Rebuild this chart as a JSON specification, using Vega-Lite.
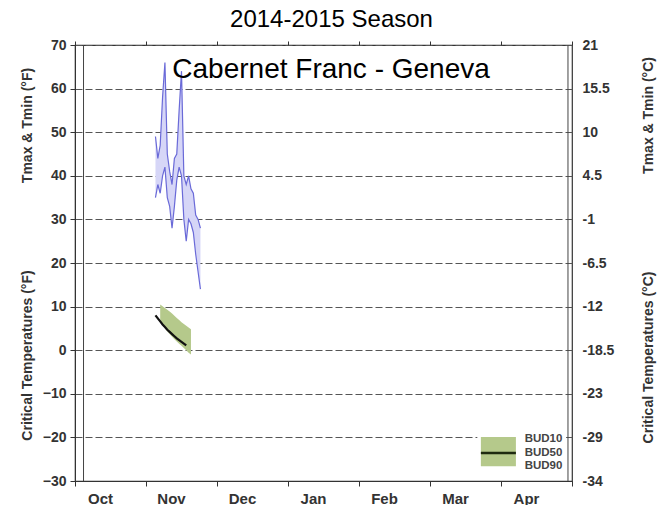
{
  "$schema": "https://vega.github.io/schema/vega-lite/v6.json",
  "width": 497,
  "height": 436,
  "autosize": {"type": "none"},
  "padding": {"left": 75, "top": 45, "right": 98, "bottom": 24},
  "title": {"text": "2014-2015 Season", "fontSize": 24, "font": "Liberation Sans", "fontWeight": "normal", "anchor": "middle", "frame": "group", "dx": 8, "offset": 6, "color": "#000"},
  "config": {
    "view": {"stroke": "#333", "strokeWidth": 1.2},
    "axis": {"labelFont": "Liberation Sans", "labelFontWeight": "bold", "labelFontSize": 14, "labelColor": "#333", "titleFont": "Liberation Sans", "titleFontWeight": "bold", "titleFontSize": 14, "titleColor": "#333", "domainColor": "#333", "tickColor": "#333"}
  },
  "datasets": {
    "temps": [
      {"d": 34, "tmax": 49, "tmin": 35},
      {"d": 35, "tmax": 44, "tmin": 38},
      {"d": 36, "tmax": 47, "tmin": 36},
      {"d": 37, "tmax": 58, "tmin": 40},
      {"d": 38, "tmax": 66, "tmin": 42},
      {"d": 39, "tmax": 45, "tmin": 35},
      {"d": 40, "tmax": 41, "tmin": 33},
      {"d": 41, "tmax": 38, "tmin": 28},
      {"d": 42, "tmax": 44, "tmin": 33},
      {"d": 43, "tmax": 45, "tmin": 39},
      {"d": 44, "tmax": 55, "tmin": 42},
      {"d": 45, "tmax": 64, "tmin": 40},
      {"d": 46, "tmax": 40, "tmin": 30},
      {"d": 47, "tmax": 38, "tmin": 25},
      {"d": 48, "tmax": 40, "tmin": 30},
      {"d": 49, "tmax": 37, "tmin": 29},
      {"d": 50, "tmax": 36, "tmin": 27},
      {"d": 51, "tmax": 31, "tmin": 22},
      {"d": 52, "tmax": 30, "tmin": 18},
      {"d": 53, "tmax": 28, "tmin": 14}
    ],
    "band": [
      {"d": 36, "bud10": 10.5, "bud90": 6.4},
      {"d": 37, "bud10": 10.1, "bud90": 5.7},
      {"d": 38, "bud10": 9.7, "bud90": 5.0},
      {"d": 39, "bud10": 9.3, "bud90": 4.3},
      {"d": 40, "bud10": 8.9, "bud90": 3.7},
      {"d": 41, "bud10": 8.4, "bud90": 3.1},
      {"d": 42, "bud10": 7.9, "bud90": 2.5},
      {"d": 43, "bud10": 7.4, "bud90": 2.0},
      {"d": 44, "bud10": 6.9, "bud90": 1.5},
      {"d": 45, "bud10": 6.4, "bud90": 1.0},
      {"d": 46, "bud10": 6.0, "bud90": 0.5},
      {"d": 47, "bud10": 5.6, "bud90": 0.0},
      {"d": 48, "bud10": 5.2, "bud90": -0.6},
      {"d": 49, "bud10": 4.8, "bud90": -1.0}
    ],
    "bud50": [
      {"d": 34, "bud50": 8.0},
      {"d": 35, "bud50": 7.3},
      {"d": 36, "bud50": 6.6},
      {"d": 37, "bud50": 5.9},
      {"d": 38, "bud50": 5.3},
      {"d": 39, "bud50": 4.7},
      {"d": 40, "bud50": 4.2},
      {"d": 41, "bud50": 3.7},
      {"d": 42, "bud50": 3.2},
      {"d": 43, "bud50": 2.7},
      {"d": 44, "bud50": 2.3},
      {"d": 45, "bud50": 1.9},
      {"d": 46, "bud50": 1.5},
      {"d": 47, "bud50": 1.1}
    ],
    "legendbg": [{"x1": 170, "x2": 207.5, "ylo": -28.5, "yhi": -18.6}],
    "legendbox": [{"x1": 171.5, "x2": 186.3, "ylo": -26.6, "yhi": -19.9, "ymid": -23.6}],
    "legendtext": [
      {"x": 190, "y": -20.4, "t": "BUD10"},
      {"x": 190, "y": -23.5, "t": "BUD50"},
      {"x": 190, "y": -26.6, "t": "BUD90"}
    ],
    "label": [{"x": 108.2, "y": 64.3, "t": "Cabernet Franc - Geneva"}],
    "frame": [{"x": 3.6}, {"x": 208.3}]
  },
  "layer": [
    {
      "data": {"name": "temps"},
      "mark": {"type": "area", "color": "#d6d6f7", "opacity": 1},
      "encoding": {
        "x": {"field": "d", "type": "quantitative", "scale": {"domain": [0, 210], "nice": false, "zero": false},
          "axis": {"orient": "bottom", "values": [0, 30, 60, 90, 120, 150, 180, 210], "labelExpr": "['Oct','Nov','Dec','Jan','Feb','Mar','Apr',''][round(datum.value/30)]", "labelOffset": 25, "labelFlush": false, "grid": false, "title": null, "tickSize": 5, "labelPadding": 5, "labelFontSize": 15}},
        "y": {"field": "tmin", "type": "quantitative", "scale": {"domain": [-30, 70], "nice": false, "zero": false},
          "axis": {"orient": "left", "values": [-30, -20, -10, 0, 10, 20, 30, 40, 50, 60, 70], "grid": true, "gridDash": [7, 3], "gridColor": "#555", "gridWidth": 1, "title": "Tmax & Tmin (°F)", "titleX": -48, "titleY": 80, "titleBaseline": "middle", "titleAngle": 270, "tickSize": 5, "labelPadding": 4}},
        "y2": {"field": "tmax"}
      }
    },
    {
      "data": {"name": "temps"},
      "mark": {"type": "line", "color": "#6a6ad8", "strokeWidth": 1.2},
      "encoding": {
        "x": {"field": "d", "type": "quantitative",
          "axis": {"orient": "top", "values": [0, 30, 60, 90, 120, 150, 180, 210], "labels": false, "domain": false, "grid": false, "title": null, "tickSize": 4}},
        "y": {"field": "tmax", "type": "quantitative",
          "axis": {"orient": "left", "labels": false, "ticks": false, "domain": false, "grid": false, "title": "Critical Temperatures (°F)", "titleX": -48, "titleY": 310, "titleBaseline": "middle", "titleAngle": 270}}
      }
    },
    {
      "data": {"name": "temps"},
      "mark": {"type": "line", "color": "#6a6ad8", "strokeWidth": 1.2},
      "encoding": {
        "x": {"field": "d", "type": "quantitative", "axis": null},
        "y": {"field": "tmin", "type": "quantitative",
          "axis": {"orient": "right", "values": [-30, -20, -10, 0, 10, 20, 30, 40, 50, 60, 70], "labelExpr": "['-34','-29','-23','-18.5','-12','-6.5','-1','4.5','10','15.5','21'][round((datum.value+30)/10)]", "ticks": false, "labelPadding": 10, "domain": false, "grid": false, "title": "Tmax & Tmin (°C)", "titleX": 76, "titleY": 70, "titleBaseline": "middle", "titleAngle": 270}}
      }
    },
    {
      "data": {"name": "band"},
      "mark": {"type": "area", "color": "#b5c98b", "opacity": 1},
      "encoding": {
        "x": {"field": "d", "type": "quantitative", "axis": null},
        "y": {"field": "bud90", "type": "quantitative",
          "axis": {"orient": "right", "labels": false, "ticks": false, "domain": false, "grid": false, "title": "Critical Temperatures (°C)", "titleX": 76, "titleY": 312, "titleBaseline": "middle", "titleAngle": 270}},
        "y2": {"field": "bud10"}
      }
    },
    {
      "data": {"name": "bud50"},
      "mark": {"type": "line", "color": "#111", "strokeWidth": 2.2},
      "encoding": {
        "x": {"field": "d", "type": "quantitative", "axis": null},
        "y": {"field": "bud50", "type": "quantitative", "axis": null}
      }
    },
    {
      "data": {"name": "legendbg"},
      "mark": {"type": "rect", "color": "#ffffff"},
      "encoding": {
        "x": {"field": "x1", "type": "quantitative", "axis": null},
        "x2": {"field": "x2"},
        "y": {"field": "ylo", "type": "quantitative", "axis": null},
        "y2": {"field": "yhi"}
      }
    },
    {
      "data": {"name": "legendbox"},
      "mark": {"type": "rect", "color": "#b5c98b"},
      "encoding": {
        "x": {"field": "x1", "type": "quantitative", "axis": null},
        "x2": {"field": "x2"},
        "y": {"field": "ylo", "type": "quantitative", "axis": null},
        "y2": {"field": "yhi"}
      }
    },
    {
      "data": {"name": "legendbox"},
      "mark": {"type": "rule", "color": "#1e2a10", "strokeWidth": 2.5},
      "encoding": {
        "x": {"field": "x1", "type": "quantitative", "axis": null},
        "x2": {"field": "x2"},
        "y": {"field": "ymid", "type": "quantitative", "axis": null}
      }
    },
    {
      "data": {"name": "legendtext"},
      "mark": {"type": "text", "font": "Liberation Sans", "fontWeight": "bold", "fontSize": 11.5, "color": "#444", "align": "left", "baseline": "middle"},
      "encoding": {
        "x": {"field": "x", "type": "quantitative", "axis": null},
        "y": {"field": "y", "type": "quantitative", "axis": null},
        "text": {"field": "t"}
      }
    },
    {
      "data": {"name": "label"},
      "mark": {"type": "text", "font": "Liberation Sans", "fontSize": 28, "color": "#000", "align": "center", "baseline": "middle"},
      "encoding": {
        "x": {"field": "x", "type": "quantitative", "axis": null},
        "y": {"field": "y", "type": "quantitative", "axis": null},
        "text": {"field": "t"}
      }
    },
    {
      "data": {"name": "frame"},
      "mark": {"type": "rule", "color": "#444", "strokeWidth": 1},
      "encoding": {
        "x": {"field": "x", "type": "quantitative", "axis": null}
      }
    }
  ],
  "resolve": {"axis": {"x": "independent", "y": "independent"}}
}
